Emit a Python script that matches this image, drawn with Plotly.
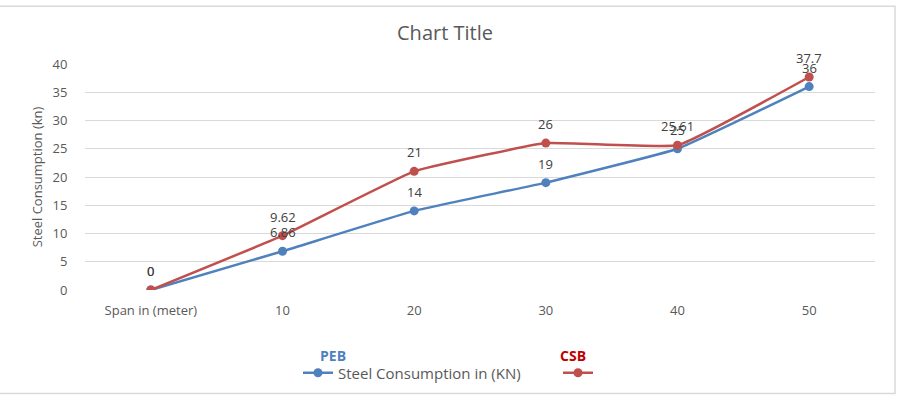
import plotly.graph_objects as go

categories = ["Span in (meter)", "10", "20", "30", "40", "50"]
peb_values = [0, 6.86, 14, 19, 25, 36]
csb_values = [0, 9.62, 21, 26, 25.61, 37.7]
peb_labels = ["0", "6.86", "14", "19", "25", "36"]
csb_labels = ["0", "9.62", "21", "26", "25.61", "37.7"]

W, H = 899, 400
L, R, T, B = 85, 24, 64, 109
pw, ph = W - L - R, H - T - B

def px(x):
    return (x - L) / pw

def py(y):
    return (H - B - y) / ph

BLUE = "#4F81BD"
RED = "#C0504D"
FONT = "'Open Sans', sans-serif"
TXT = "#595959"

fig = go.Figure()
fig.add_trace(go.Scatter(
    x=categories, y=peb_values, name="Steel Consumption in (KN)",
    mode="lines+markers", legend="legend",
    line=dict(color=BLUE, width=2.5, shape="spline", smoothing=0.3),
    marker=dict(color=BLUE, size=9),
))
fig.add_trace(go.Scatter(
    x=categories, y=csb_values, name=" ",
    mode="lines+markers", legend="legend2",
    line=dict(color=RED, width=2.5, shape="spline", smoothing=0.3),
    marker=dict(color=RED, size=9),
))

# data labels (category index positions)
for vals, labs in ((peb_values, peb_labels), (csb_values, csb_labels)):
    for i, (v, t) in enumerate(zip(vals, labs)):
        fig.add_annotation(x=i, y=v, text=t, showarrow=False, yshift=19,
                           yanchor="middle", xanchor="center",
                           font=dict(color="#404040", size=13, family=FONT))

leg_common = dict(orientation="h", xanchor="left", yanchor="middle",
                  font=dict(size=15, color=TXT, family=FONT),
                  bgcolor="rgba(0,0,0,0)")

fig.update_layout(
    width=W, height=H,
    margin=dict(l=L, r=R, t=T, b=B),
    paper_bgcolor="white", plot_bgcolor="white",
    font=dict(family=FONT, color=TXT, size=13),
    title=dict(text="Chart Title", x=px(445), xref="paper", xanchor="center",
               y=1 - 33 / H, yanchor="middle",
               font=dict(size=20, color=TXT, family=FONT)),
    showlegend=True,
    legend=dict(x=px(298), y=py(373), **leg_common),
    legend2=dict(x=px(558), y=py(373), **leg_common),
    xaxis=dict(type="category", range=[-0.5, 5.5], showgrid=False,
               showline=False, zeroline=False, ticks="outside", ticklen=8,
               tickcolor="rgba(0,0,0,0)", tickfont=dict(size=13, color=TXT)),
    yaxis=dict(range=[0, 40], dtick=5, showgrid=True, gridcolor="#D9D9D9",
               gridwidth=1, zeroline=False, showline=False, ticks="outside",
               ticklen=14, tickcolor="rgba(0,0,0,0)",
               tickfont=dict(size=13, color=TXT),
               title=dict(text="Steel Consumption (kn)", standoff=6,
                          font=dict(size=13, color=TXT))),
)

# chart border (top, right, bottom)
fig.add_shape(type="rect", xref="paper", yref="paper",
              x0=px(-2), x1=px(895), y0=py(395), y1=py(6),
              line=dict(color="#D9D9D9", width=1.5), layer="below")

fig.add_annotation(text="<b>PEB</b>", xref="paper", yref="paper",
                   x=px(318), y=py(357), showarrow=False, yanchor="middle",
                   font=dict(color=BLUE, size=14, family=FONT))
fig.add_annotation(text="<b>CSB</b>", xref="paper", yref="paper",
                   x=px(573), y=py(357), showarrow=False, yanchor="middle",
                   font=dict(color="#C00000", size=14, family=FONT))

fig.write_html("out.html")
